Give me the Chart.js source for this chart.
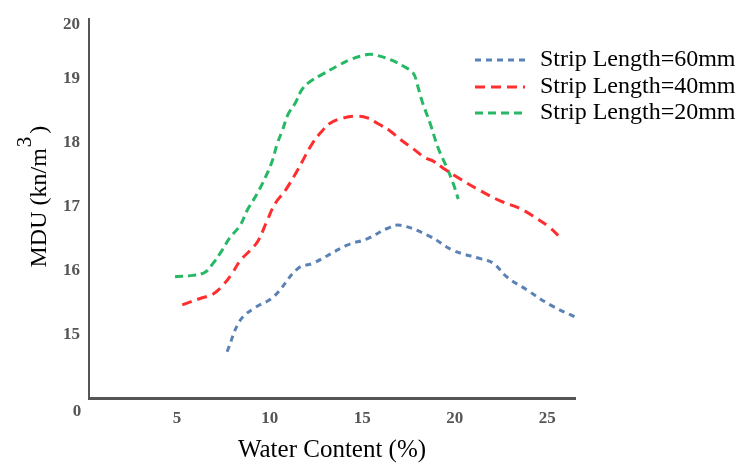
<!DOCTYPE html>
<html>
<head>
<meta charset="utf-8">
<script src="https://cdn.jsdelivr.net/npm/chart.js@4"></script>
<style>
html,body{margin:0;padding:0;background:#fff;}
#wrap{width:751px;height:465px;position:relative;}
</style>
</head>
<body>
<div id="wrap"><canvas id="c" width="751" height="465"></canvas></div>
<script>
// ---- data ----
const seriesLabels = ['Strip Length=60mm', 'Strip Length=40mm', 'Strip Length=20mm'];
const xTicks = [5, 10, 15, 20, 25];
const yTicks = [15, 16, 17, 18, 19];
const yTopTickLabel = '20';
const yBottomTickLabel = '0';

const x60 = [7.70, 8.41, 9.22, 10.19, 11.54, 12.35, 14.19, 15.27, 16.35, 17.05, 18.57, 19.92, 21.38, 22.08, 22.84, 23.92, 25.16, 26.51];
const y60 = [14.74, 15.23, 15.43, 15.59, 16.04, 16.12, 16.40, 16.50, 16.66, 16.71, 16.55, 16.32, 16.19, 16.12, 15.90, 15.70, 15.47, 15.28];

const x40 = [5.28, 6.24, 6.95, 7.49, 7.97, 8.41, 8.95, 9.38, 9.86, 10.30, 10.84, 11.49, 12.30, 12.84, 13.27, 13.97, 14.73, 15.32, 15.81, 16.51, 17.05, 17.76, 18.41, 18.84, 19.38, 20.30, 21.38, 22.46, 23.54, 24.46, 25.16, 25.70];
const y40 = [15.47, 15.57, 15.64, 15.78, 15.96, 16.16, 16.32, 16.47, 16.78, 17.05, 17.25, 17.56, 17.98, 18.18, 18.30, 18.38, 18.41, 18.38, 18.30, 18.18, 18.05, 17.90, 17.76, 17.71, 17.60, 17.43, 17.25, 17.09, 16.97, 16.81, 16.67, 16.52];

const x20 = [4.89, 5.86, 6.51, 6.95, 7.43, 7.86, 8.41, 8.78, 9.32, 9.76, 10.14, 10.41, 10.68, 11.00, 11.38, 11.76, 12.19, 12.84, 13.65, 14.35, 15.27, 15.59, 16.51, 17.22, 17.76, 17.97, 18.24, 18.68, 19.11, 19.59, 19.92, 20.19];
const y20 = [15.91, 15.93, 15.98, 16.12, 16.32, 16.52, 16.71, 16.94, 17.20, 17.45, 17.71, 17.98, 18.18, 18.44, 18.61, 18.83, 18.95, 19.06, 19.19, 19.29, 19.37, 19.37, 19.29, 19.19, 19.08, 18.91, 18.64, 18.29, 17.91, 17.60, 17.36, 17.12];

const pts = (xs, ys) => xs.map((x, i) => ({x: x, y: ys[i]}));

const SERIF = '"Liberation Serif", "DejaVu Serif", serif';

const decorPlugin = {
  id: 'decor',
  afterDraw(chart) {
    const ctx = chart.ctx;
    const area = chart.chartArea;
    ctx.save();
    // bottom-left "0" tick label
    ctx.font = 'bold 17px ' + SERIF;
    ctx.fillStyle = '#555';
    ctx.textAlign = 'center';
    ctx.textBaseline = 'middle';
    ctx.fillText(yBottomTickLabel, 77, area.bottom + 14);

    // y-axis title with superscript
    ctx.translate(38, (area.top + area.bottom) / 2 - 12);
    ctx.rotate(-Math.PI / 2);
    ctx.fillStyle = '#000';
    ctx.textBaseline = 'alphabetic';
    ctx.textAlign = 'left';
    const big = '24px ' + SERIF, small = '21px ' + SERIF;
    ctx.font = big;
    const p1 = 'MDU (kn/m', p3 = ')';
    const w1 = ctx.measureText(p1).width;
    ctx.font = small;
    const w2 = ctx.measureText('3').width;
    ctx.font = big;
    const w3 = ctx.measureText(p3).width;
    const total = w1 + w2 + 4 + w3;
    let x0 = -total / 2;
    ctx.fillText(p1, x0, 8);
    ctx.font = small;
    ctx.fillText('3', x0 + w1 + 1, -7);
    ctx.font = big;
    ctx.fillText(p3, x0 + w1 + w2 + 4, 8);
    ctx.restore();

    // legend
    ctx.save();
    const rows = [60, 87, 113];
    chart.data.datasets.forEach((ds, i) => {
      const y = rows[i];
      ctx.strokeStyle = ds.borderColor;
      ctx.lineWidth = ds.borderWidth;
      ctx.setLineDash(ds.borderDash);
      ctx.beginPath();
      ctx.moveTo(475, y);
      ctx.lineTo(525, y);
      ctx.stroke();
      ctx.setLineDash([]);
      ctx.fillStyle = '#000';
      ctx.font = '24px ' + SERIF;
      ctx.textAlign = 'left';
      ctx.textBaseline = 'middle';
      ctx.fillText(ds.label, 540, y);
    });
    ctx.restore();
  }
};

new Chart(document.getElementById('c'), {
  type: 'line',
  data: {
    datasets: [
      {label: seriesLabels[0], data: pts(x60, y60), borderColor: '#5b82b4', borderWidth: 3, borderDash: [6, 5], pointRadius: 0, tension: 0.4, fill: false},
      {label: seriesLabels[1], data: pts(x40, y40), borderColor: '#ff2e2e', borderWidth: 3, borderDash: [10, 6], pointRadius: 0, tension: 0.4, fill: false},
      {label: seriesLabels[2], data: pts(x20, y20), borderColor: '#27b865', borderWidth: 3, borderDash: [8, 5], pointRadius: 0, tension: 0.4, fill: false}
    ]
  },
  options: {
    responsive: false,
    animation: false,
    events: [],
    layout: {padding: {left: 0, right: 176, top: 18, bottom: 0}},
    plugins: {legend: {display: false}, tooltip: {enabled: false}},
    scales: {
      x: {
        type: 'linear',
        min: 0.24,
        max: 26.5,
        afterBuildTicks: (s) => { s.ticks = xTicks.map(v => ({value: v})); },
        afterFit: (s) => { s.height = 67; },
        grid: {display: false, drawTicks: false},
        border: {display: true, color: '#555', width: 3},
        ticks: {padding: 10, color: '#555', font: {family: SERIF, size: 17, weight: 'bold'}, maxRotation: 0, autoSkip: false},
        title: {display: true, text: 'Water Content (%)', color: '#000', font: {family: SERIF, size: 25}, padding: {top: 7, bottom: 0}}
      },
      y: {
        type: 'linear',
        min: 14.02,
        max: 19.92,
        afterBuildTicks: (s) => { s.ticks = yTicks.map(v => ({value: v})).concat([{value: 19.84}]); },
        afterFit: (s) => { s.width = 89; },
        grid: {display: false, drawTicks: false},
        border: {display: true, color: '#555', width: 2},
        ticks: {padding: 9, color: '#555', font: {family: SERIF, size: 17, weight: 'bold'}, autoSkip: false,
          callback: (v) => (v > 19.5 ? yTopTickLabel : String(v))}
      }
    }
  },
  plugins: [decorPlugin]
});
</script>
</body>
</html>
